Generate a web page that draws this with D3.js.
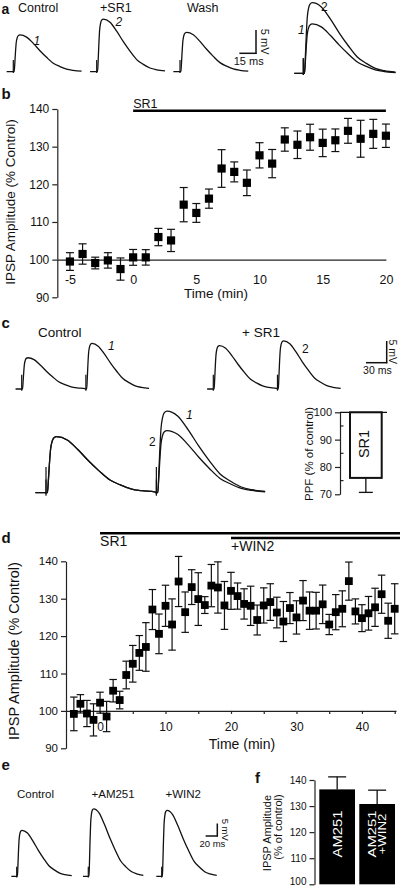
<!DOCTYPE html>
<html><head><meta charset="utf-8">
<script src="https://cdn.jsdelivr.net/npm/d3@7"></script>
<style>
body{margin:0;background:#fff}
svg{display:block;font-family:"Liberation Sans",Arial,Helvetica,sans-serif}
</style></head><body>
<svg id="fig" width="404" height="888"></svg>
<script>
// ================= DATA =================
// IPSP waveform template (template ms after stimulus, fraction of peak)
const ipspT = [-6, -0.1, 0.8, 1.3, 1.9, 2.6, 3.5, 4.5, 6, 12, 18, 24, 30, 36, 42, 48, 54, 61.5];
const ipspV = [0, 0, 0, 0.2, 0.5, 0.78, 0.92, 0.98, 1, 0.94, 0.77, 0.57, 0.39, 0.23, 0.14, 0.07, 0.036, 0.015];

// panel a : single IPSPs (mV)
const aLabels = ["Control", "+SR1", "Wash"];
const aAmp = [7.9, 11.3, 8.45];
const aTraceTags = ["1", "2", ""];
const aOverlayIdx = [0, 1];
const aScaleBar = {ms: 15, mv: 5};

// panel b : SR1 time course
const bTime = [-5,-4,-3,-2,-1,0,1,2,3,4,5,6,7,8,9,10,11,12,13,14,15,16,17,18,19,20];
const bMean = [99.5,101.5,99.1,99.8,97.5,100.6,100.6,106,105.1,114.6,112.4,116.2,124.2,123.3,120.4,127.7,125.5,131.9,130.5,132.5,131,131.7,134.2,132.1,133.4,132.9];
const bSem  = [2.35,2.7,1.55,2.05,2.95,2.1,2.05,2.3,2.95,4.55,2.5,2.55,5,2.65,3.4,3.35,3.75,3.1,3.65,3.45,3.65,3,3.3,4.9,3.85,3.1];
const bYTicks = [90,100,110,120,130,140];
const bXTicks = [-5,0,5,10,15,20];

// panel c : paired pulses (mV)
const cLabels = ["Control", "+ SR1"];
const cP1 = [7.2, 10.0];
const cP2 = [10.5, 11.1];
const cInterval = 93; // ms
const cScaleBar = {ms: 30, mv: 5};
const ppfCat = ["SR1"];
const ppfMean = [76];
const ppfSem = [5.3];
const ppfTicks = [70, 80, 90, 100];
const ppfMinor = [75, 85, 95];

// panel d : SR1 then WIN2 time course
const dTime = [-4,-3,-2,-1,0,1,2,3,4,5,6,7,8,9,10,11,12,13,14,15,16,17,18,19,20,21,22,23,24,25,26,27,28,29,30,31,32,33,34,35,36,37,38,39,40,41,42,43,44,45];
const dMean = [99.2,101.9,99.3,97.6,102.2,98.5,105.4,102.9,109.6,112.6,115.5,117.1,127.1,120.6,128.1,123.1,134.6,126.4,133.1,129.9,128.3,133.5,133,128.2,132.1,130.7,128.6,128.1,124.3,128.2,129.1,126.3,123.9,127.5,125,129.5,126.8,126.8,128.5,123.1,126.4,127.3,134.7,126.6,124.8,126.1,127.7,131.2,124.1,127.3];
const dSem  = [4.5,2.45,3.5,4.3,2.8,4.05,3,2.35,3.7,4.9,4.65,6.5,5.35,5.3,5.5,6.85,6.7,5.4,4.65,7.05,2.25,5.65,6.85,6.4,4.95,3.5,4.05,5.25,4,4.7,4.9,4.1,5.35,4.15,4.45,5.35,5,4.9,5.15,2.7,4.7,4.8,5.1,3.35,3.6,4.5,5.1,5.1,4.7,6.7];
const dYTicks = [90,100,110,120,130,140];
const dXTicks = [0,5,10,15,20,25,30,35,40,45];
const dXLabels = [0,10,20,30,40];
const dDrugs = ["SR1", "+WIN2"];
const dDrugStart = [0, 20];

// panel e : single IPSPs (mV)
const eLabels = ["Control", "+AM251", "+WIN2"];
const eAmp = [18.4, 27.0, 26.4];
const eScaleBar = {ms: 20, mv: 5};

// panel f : summary bars
const fCats = ["AM251", "AM251+WIN2"];
const fBarText = [["AM251"], ["AM251", "+WIN2"]];
const fMean = [136.4, 130.8];
const fSem = [4.8, 5.3];
const fTicks = [100,110,120,130,140];

// ================= DRAWING =================
const svg = d3.select("#fig");
const INK = "#111";

function txt(x, y, s, size, o = {}) {
  const t = svg.append("text").attr("x", x).attr("y", y).attr("font-size", size).attr("fill", o.fill || INK).text(s);
  if (o.bold) t.attr("font-weight", "bold");
  if (o.italic) t.attr("font-style", "italic");
  if (o.anchor) t.attr("text-anchor", o.anchor);
  if (o.rotate) t.attr("transform", `rotate(${o.rotate},${x},${y})`);
  if (o.len) t.attr("textLength", o.len).attr("lengthAdjust", "spacingAndGlyphs");
  return t;
}
function seg(x1, y1, x2, y2, w = 1.2, c = INK) {
  svg.append("line").attr("x1", x1).attr("y1", y1).attr("x2", x2).attr("y2", y2)
    .attr("stroke", c).attr("stroke-width", w);
}

// build waveform points for a pulse train
function train(amps, interval, stretch) {
  const pts = [];
  amps.forEach((a, k) => {
    const t0 = k * interval;
    ipspT.forEach((t, i) => {
      const tt = t0 + t * stretch;
      if (k > 0 && t < -0.1) return;
      if (k < amps.length - 1 && tt >= (k + 1) * interval - 0.1 * stretch) return;
      pts.push({t: tt, v: a * ipspV[i]});
    });
  });
  return pts;
}
function drawTrace(x0, pxPerMs, stretch, base, ys, amps, interval, artMv) {
  const xs = d3.scaleLinear().domain([0, 1]).range([x0, x0 + pxPerMs]);
  const line = d3.line().x(d => xs(d.t)).y(d => ys(d.v)).curve(d3.curveMonotoneX);
  svg.append("path").attr("d", line(train(amps, interval, stretch)))
    .attr("fill", "none").attr("stroke", INK).attr("stroke-width", 1.3).attr("stroke-linejoin", "round");
  amps.forEach((a, k) => {
    const xa = xs(k * interval);
    seg(xa, ys(-artMv * 0.12), xa, ys(artMv), 1.2);
  });
  return xs;
}
function scaleBar(cx, cy, pxPerMs, pxPerMv, bar, size, mvGap) {
  const h = bar.mv * pxPerMv, w = bar.ms * pxPerMs;
  seg(cx, cy + 0.6, cx, cy - h, 1.5);
  seg(cx - w, cy, cx + 0.6, cy, 1.5);
  txt(cx + mvGap, cy - h / 2, `${bar.mv} mV`, size, {anchor: "middle", rotate: 90});
  txt(cx - w / 2 + 1, cy + size + 1, `${bar.ms} ms`, size, {anchor: "middle"});
}

// ---------- panel a ----------
txt(1.5, 14, "a", 14, {bold: true});
const aX0 = [13.3, 96.7, 180], aLabX = [18, 100, 187];
const aBase = 71.7, aMvPx = 4.66, aMsPx = 1.11;
aLabels.forEach((l, i) => txt(aLabX[i], 12.2, l, 12.5));
const aYs = d3.scaleLinear().domain([0, 1]).range([aBase, aBase - aMvPx]);
aAmp.forEach((a, i) => drawTrace(aX0[i], aMsPx, 1, aBase, aYs, [a], 0, 2.5));
txt(33.5, 44.5, aTraceTags[0], 12, {italic: true});
txt(115.5, 25.5, aTraceTags[1], 12, {italic: true});
scaleBar(256, 53.3, aMsPx, aMvPx, aScaleBar, 11, 4.5);
const aoYs = d3.scaleLinear().domain([0, 1]).range([73.3, 73.3 - 6.25]);
aOverlayIdx.forEach(i => drawTrace(303.3, 1.5, 1, 73.3, aoYs, [aAmp[i]], 0, 2.4));
txt(321, 11, aTraceTags[1], 12);
txt(298, 33.5, aTraceTags[0], 12, {italic: true});

// ---------- time-course helper ----------
function timeCourse(cfg) {
  const {xs, ys, time, mean, sem, yTicks, xTicks, xLabels, xPad, yFont, xFont, cap, sq} = cfg;
  const gy = svg.append("g").attr("transform", `translate(${xs.range()[0]},0)`)
    .call(d3.axisLeft(ys).tickValues(yTicks).tickSize(5).tickSizeOuter(0).tickPadding(3).tickFormat(d => String(d)));
  gy.selectAll("text").attr("font-size", yFont).attr("fill", INK).attr("font-family", null);
  gy.selectAll("line,path").attr("stroke", "#222").attr("stroke-width", 1.2);
  const gx = svg.append("g").attr("transform", `translate(0,${ys(100)})`)
    .call(d3.axisBottom(xs).tickValues(xTicks).tickSize(cfg.xTickSize).tickSizeOuter(0).tickPadding(xPad)
      .tickFormat(d => xLabels.includes(d) ? String(d) : ""));
  gx.selectAll("text").attr("font-size", xFont).attr("fill", INK).attr("font-family", null);
  gx.selectAll("line,path").attr("stroke", "#222").attr("stroke-width", 1.2);
  time.forEach((t, i) => {
    const x = xs(t);
    const y1 = ys(mean[i] + sem[i]), y2 = ys(mean[i] - sem[i]);
    seg(x, y1, x, y2, 1.2);
    seg(x - cap / 2, y1, x + cap / 2, y1, 1.2);
    seg(x - cap / 2, y2, x + cap / 2, y2, 1.2);
  });
  svg.append("g").selectAll("rect").data(time).join("rect")
    .attr("x", (t) => xs(t) - sq / 2).attr("y", (t, i) => ys(mean[i]) - sq / 2)
    .attr("width", sq).attr("height", sq).attr("fill", "#000");
}

// ---------- panel b ----------
txt(1.5, 98.5, "b", 15, {bold: true});
const bX = d3.scaleLinear().domain([-6, 20]).range([57.3, 385.9]);
const bY = d3.scaleLinear().domain([90, 140]).range([297.3, 109]);
timeCourse({xs: bX, ys: bY, time: bTime, mean: bMean, sem: bSem, yTicks: bYTicks, xTicks: bXTicks,
  xLabels: bXTicks, xPad: 15, xTickSize: 0, yFont: 12, xFont: 12.5, cap: 8, sq: 8.2});
txt(216, 298, "Time (min)", 13.5, {anchor: "middle"});
txt(15, 202, "IPSP Amplitude (% Control)", 13.5, {anchor: "middle", rotate: -90});
seg(bX(0), 110.8, bX(20), 110.8, 2.6, "#000");
txt(bX(0), 107.7, "SR1", 12.5);

// ---------- panel c ----------
txt(1.5, 328.3, "c", 15, {bold: true});
txt(38, 336.7, cLabels[0], 13.5);
txt(242, 336.7, cLabels[1], 13.5);
const cMsPx = 0.69, cMvPx = 4.34, cStretch = 1.49, cBase = 389;
const cYs = d3.scaleLinear().domain([0, 1]).range([cBase, cBase - cMvPx]);
[21.7, 213.3].forEach((x0, i) => drawTrace(x0, cMsPx, cStretch, cBase, cYs, [cP1[i], cP2[i]], cInterval, 3.3));
txt(108, 349.5, "1", 12, {italic: true});
txt(302, 352.5, "2", 12);
scaleBar(386.7, 362.7, cMsPx, cMvPx, cScaleBar, 10.5, 2.5);
// normalized overlay
const cOvBase = 492.7, cOvP1px = 56;
[0, 1].forEach(i => {
  const ys = d3.scaleLinear().domain([0, cP1[i]]).range([cOvBase, cOvBase - cOvP1px]);
  drawTrace(46, cMsPx * 1.72, cStretch, cOvBase, ys, [cP1[i], cP2[i]], cInterval, 3.3 * cP1[0] / cP1[i]);
});
txt(186, 419, "1", 12, {italic: true});
txt(149, 446, "2", 12);
// PPF inset bar
const ppfY = d3.scaleLinear().domain([70, 100]).range([494.3, 412.3]);
const ppfX = d3.scaleBand().domain(ppfCat).range([350, 381.7]).padding(0);
const gp = svg.append("g").attr("transform", "translate(340,0)")
  .call(d3.axisLeft(ppfY).tickValues(ppfTicks).tickSize(5).tickSizeOuter(0).tickPadding(3));
gp.selectAll("text").attr("font-size", 11).attr("fill", INK).attr("font-family", null);
gp.selectAll("line,path").attr("stroke", "#222").attr("stroke-width", 1.2);
ppfMinor.forEach(v => seg(340, ppfY(v), 343.5, ppfY(v), 1.1));
seg(340, ppfY(100), 387, ppfY(100), 1.3);
ppfCat.forEach((c, i) => {
  const xc = ppfX(c) + ppfX.bandwidth() / 2;
  seg(xc, ppfY(ppfMean[i]), xc, ppfY(ppfMean[i] - ppfSem[i]), 1.3);
  seg(xc - 7, ppfY(ppfMean[i] - ppfSem[i]), xc + 7, ppfY(ppfMean[i] - ppfSem[i]), 1.3);
  svg.append("rect").attr("x", ppfX(c)).attr("y", ppfY(100)).attr("width", ppfX.bandwidth())
    .attr("height", ppfY(ppfMean[i]) - ppfY(100)).attr("fill", "#fff").attr("stroke", INK).attr("stroke-width", 2);
  txt(xc + 3, 444, c, 14.5, {anchor: "middle", rotate: -90});
});
txt(313, 454, "PPF (% of control)", 11.5, {anchor: "middle", rotate: -90});

// ---------- panel d ----------
txt(1.5, 543, "d", 15, {bold: true});
const dX = d3.scaleLinear().domain([-5.2, 45.2]).range([66, 396]);
const dY = d3.scaleLinear().domain([90, 140]).range([748.3, 561.3]);
timeCourse({xs: dX, ys: dY, time: dTime, mean: dMean, sem: dSem, yTicks: dYTicks, xTicks: dXTicks,
  xLabels: dXLabels, xPad: 9, xTickSize: 3, yFont: 11.5, xFont: 12, cap: 7.5, sq: 7.8});
txt(242, 749, "Time (min)", 14, {anchor: "middle"});
txt(19, 651, "IPSP Amplitude (% Control)", 14.5, {anchor: "middle", rotate: -90});
const dBarY = [533.3, 538], dLabY = [545.5, 550.5];
dDrugs.forEach((d, i) => {
  seg(dX(dDrugStart[i]), dBarY[i], 400, dBarY[i], 2.5, "#000");
  txt(dX(dDrugStart[i]), dLabY[i], d, 14);
});

// ---------- panel e ----------
txt(1.5, 770, "e", 15, {bold: true});
const eX0 = [16.7, 88.3, 161.7], eLabX = [17, 91.5, 165.5];
eLabels.forEach((l, i) => txt(eLabX[i], 798.3, l, 11.5));
const eBase = 876.3, eMvPx = 2.5, eMsPx = 0.585;
const eYs = d3.scaleLinear().domain([0, 1]).range([eBase, eBase - eMvPx]);
eAmp.forEach((a, i) => drawTrace(eX0[i], eMsPx, 1.53, eBase, eYs, [a], 0, 3.8));
scaleBar(217.3, 836, eMsPx, eMvPx, eScaleBar, 9.5, 4.5);

// ---------- panel f ----------
txt(255, 783, "f", 15, {bold: true});
const fY = d3.scaleLinear().domain([100, 140]).range([884.3, 780]);
const fX = d3.scaleBand().domain(fCats).range([319.3, 395]).paddingInner(0.107).paddingOuter(0);
fCats.forEach((c, i) => {
  const xc = fX(c) + fX.bandwidth() / 2;
  seg(xc, fY(fMean[i]), xc, fY(fMean[i] + fSem[i]), 1.3);
  seg(xc - 9, fY(fMean[i] + fSem[i]), xc + 9, fY(fMean[i] + fSem[i]), 1.3);
  svg.append("rect").attr("x", fX(c)).attr("y", fY(fMean[i])).attr("width", fX.bandwidth())
    .attr("height", fY(100) - fY(fMean[i])).attr("fill", "#000");
  const lines = fBarText[i];
  lines.forEach((s, k) => {
    const bx = lines.length === 1 ? xc + 4.5 : xc - 0.8 + k * 9.6;
    txt(bx, 834, s, lines.length === 1 ? 12.5 : 11.2, {anchor: "middle", rotate: -90, fill: "#fff", len: k === 0 ? 47 : 41});
  });
});
const gf = svg.append("g").attr("transform", "translate(314.5,0)")
  .call(d3.axisLeft(fY).tickValues(fTicks).tickSize(5).tickSizeOuter(0).tickPadding(3));
gf.selectAll("text").attr("font-size", 10).attr("fill", INK).attr("font-family", null)
  .attr("dy", d => d === 100 ? "0.05em" : "0.32em");
gf.selectAll("line,path").attr("stroke", "#222").attr("stroke-width", 1.2);
txt(271, 833, "IPSP Amplitude", 11, {anchor: "middle", rotate: -90});
txt(282, 827, "(% of control)", 11, {anchor: "middle", rotate: -90});
</script>
</body></html>
